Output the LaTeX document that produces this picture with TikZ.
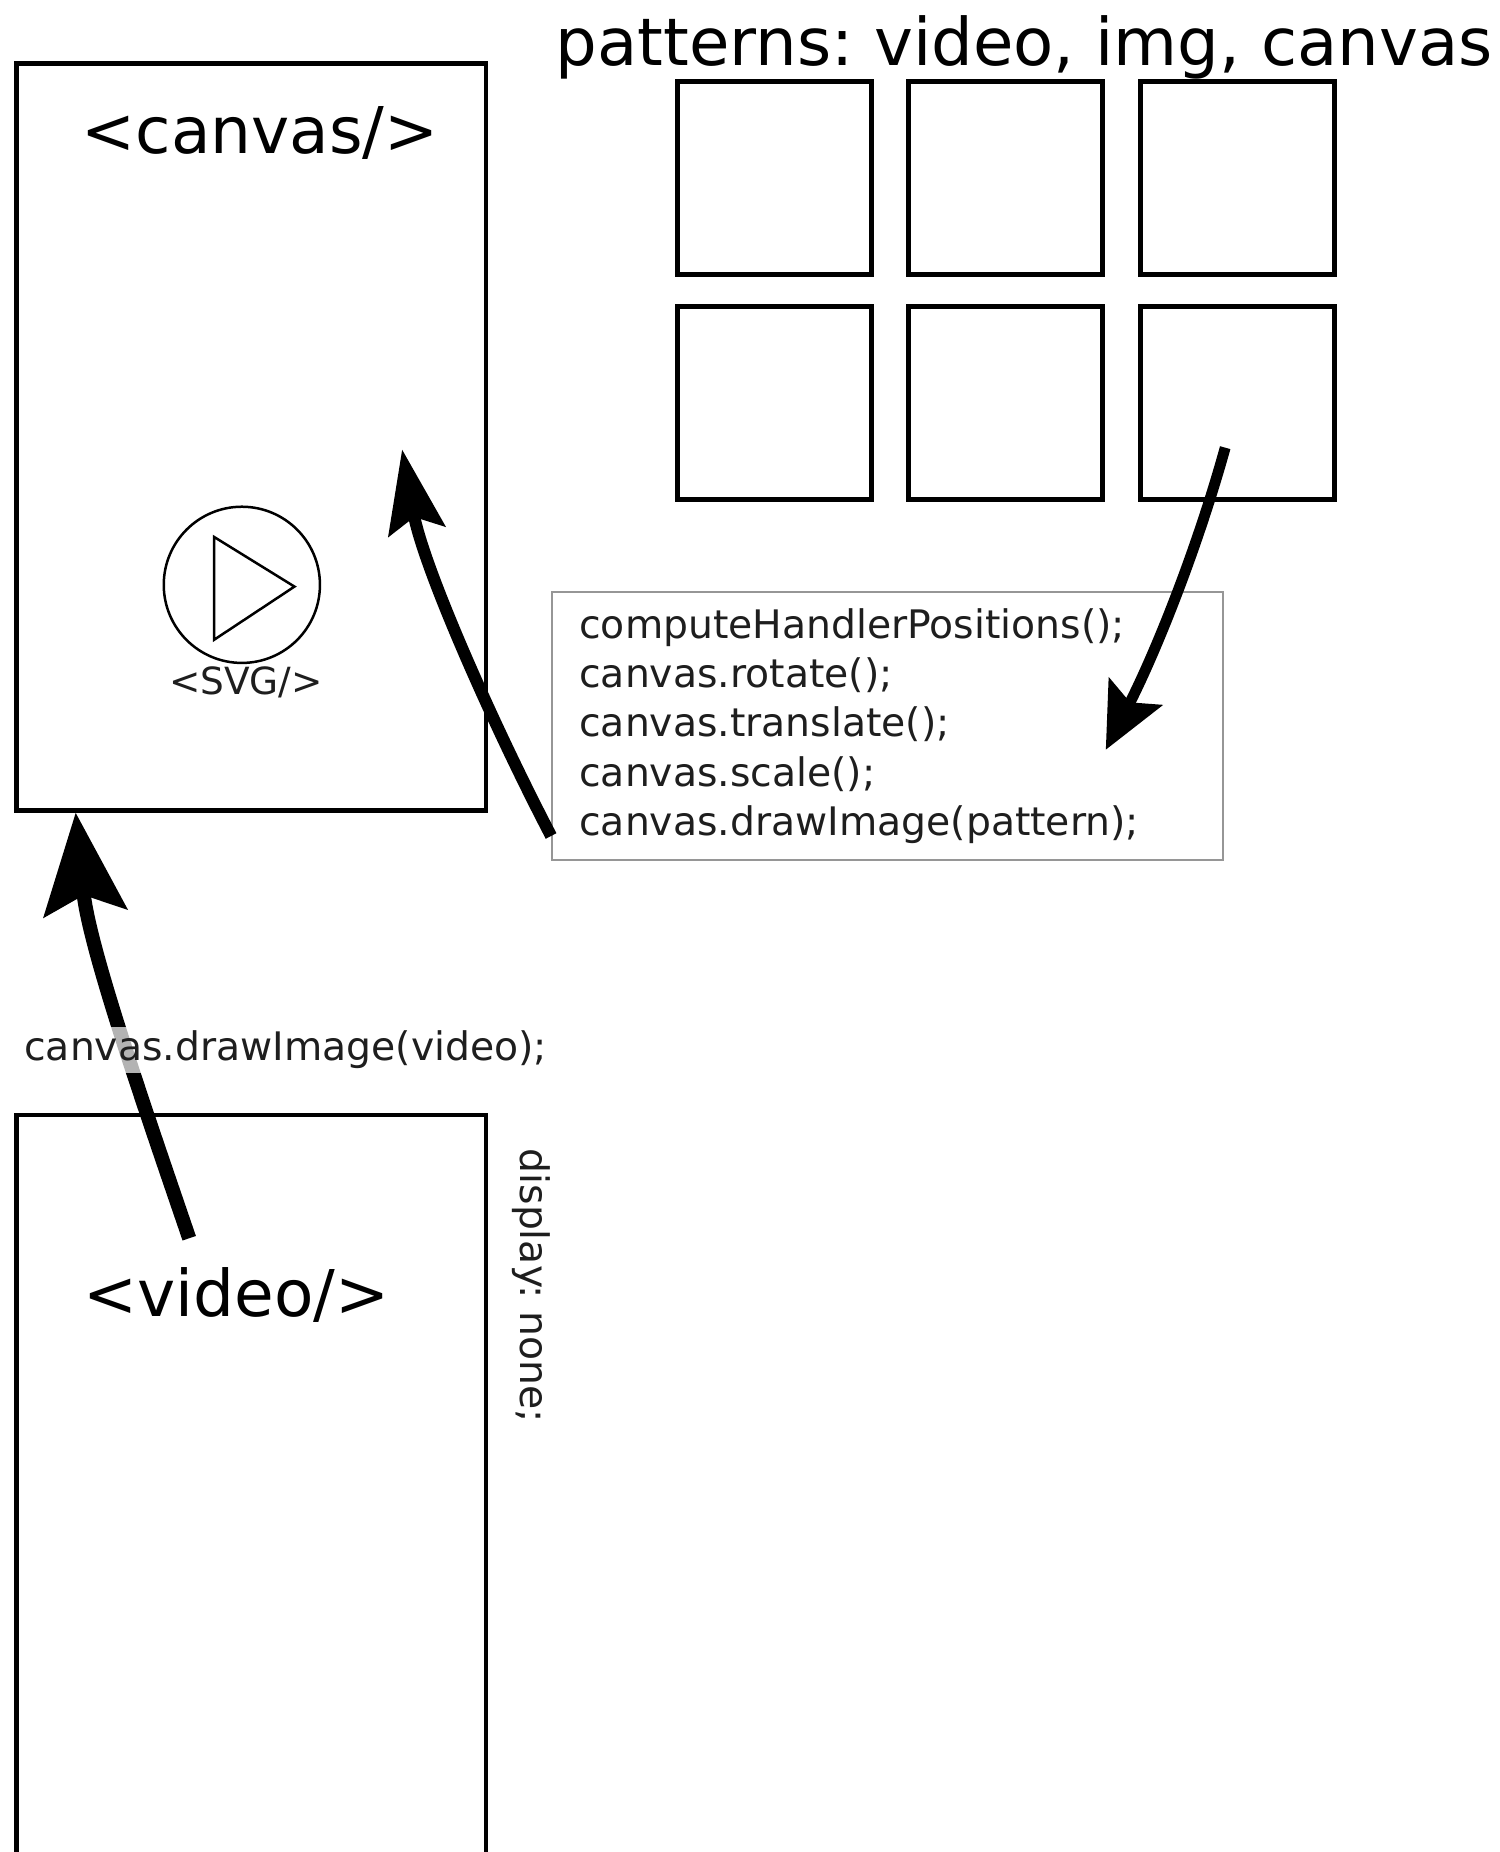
\documentclass[tikz,border=0pt]{standalone}
\usepackage{fontspec}
\setmainfont{DejaVu Sans}
\usepackage{tikz}
\usetikzlibrary{arrows.meta, positioning, calc}
\definecolor{boxgray}{RGB}{150,150,150}
\definecolor{inkgray}{RGB}{30,30,30}
\newcommand{\bigfont}{\fontsize{15.5}{18}\selectfont}
\newcommand{\codefont}{\fontsize{9.45}{11.8}\selectfont}
\frenchspacing

\begin{document}
\begin{tikzpicture}[x=0.01cm, y=-0.01cm,
  frame/.style={draw, line width=1.1pt, minimum width=3.97cm, inner sep=0pt},
  patbox/.style={draw, line width=1.2pt, minimum width=1.64cm, minimum height=1.63cm, inner sep=0pt},
  codebox/.style={draw=boxgray, line width=0.5pt, text width=5.21cm, inner xsep=0.23cm, minimum height=2.26cm, align=left, font=\codefont, text=inkgray},
  handarrow/.style n args={4}{-{Stealth[length=#1, width=#2, inset=#3]}, line width=#4}
]
  \useasboundingbox (0,0) rectangle (1268,1566);

  % canvas element with the svg overlay
  \node[frame, minimum height=6.31cm] (canvas) at (212.5,369.5) {};
  \node[font=\bigfont, anchor=base] (canvaslbl) at (220,130) {<canvas/>};
  \node[draw, circle, line width=0.6pt, minimum size=1.32cm, inner sep=0pt] (play) at (204.5,494.5) {};
  \draw[line width=0.6pt] (181,454) -- (181,541) -- (249,496) -- cycle;
  \node[font=\fontsize{9}{11}\selectfont, anchor=base, text=inkgray] (svglbl) at (208,587) {<SVG/>};

  % patterns
  \node[font=\fontsize{15.8}{19}\selectfont, anchor=base] (pattitle) at (866,55) {patterns: video, img, canvas};
  \foreach \x [count=\i] in {655,850,1046}{
    \node[patbox] (pat\i) at (\x,150.5) {};
    \pgfmathtruncatemacro{\j}{\i+3}
    \node[patbox] (pat\j) at (\x,340.5) {};
  }

  \node[codebox, anchor=north west] (code) at (466,500) {computeHandlerPositions();\\
    canvas.rotate();\\
    canvas.translate();\\
    canvas.scale();\\
    canvas.drawImage(pattern);};

  % hidden video element
  \node[frame, minimum height=7cm, anchor=north] (video) at (212.5,941) {};
  \node[font=\bigfont, anchor=base] (videolbl) at (200,1113) {<video/>};
  \node[font=\codefont, rotate=-90, text=inkgray] (hidden) at (449,1087) {display: none;};

  \coordinate (canvasin) at (340,380);
  \coordinate (codein) at (935,634);
  \coordinate (videoout) at (160,1047);

  \draw[handarrow={0.7cm}{0.48cm}{0.12cm}{2.9pt}] ([yshift=0.21cm]code.south west)
    .. controls (418,615) and (358,480) .. (canvasin);
  \draw[handarrow={0.55cm}{0.5cm}{0.1cm}{2.6pt}] ([shift={(-0.1cm,-0.38cm)}]pat6.center)
    .. controls (1012,465) and (977,552) .. (codein);
  \draw[handarrow={0.85cm}{0.7cm}{0.15cm}{3.4pt}] (videoout)
    .. controls (120,930) and (75,800) .. ([xshift=0.52cm]canvas.south west);
  \node[font=\codefont, fill=white, fill opacity=0.7, text opacity=1, text=inkgray, inner xsep=0pt, inner ysep=1pt, anchor=base] (drawlbl) at (241.5,897) {canvas.drawImage(video);};
\end{tikzpicture}
\end{document}
